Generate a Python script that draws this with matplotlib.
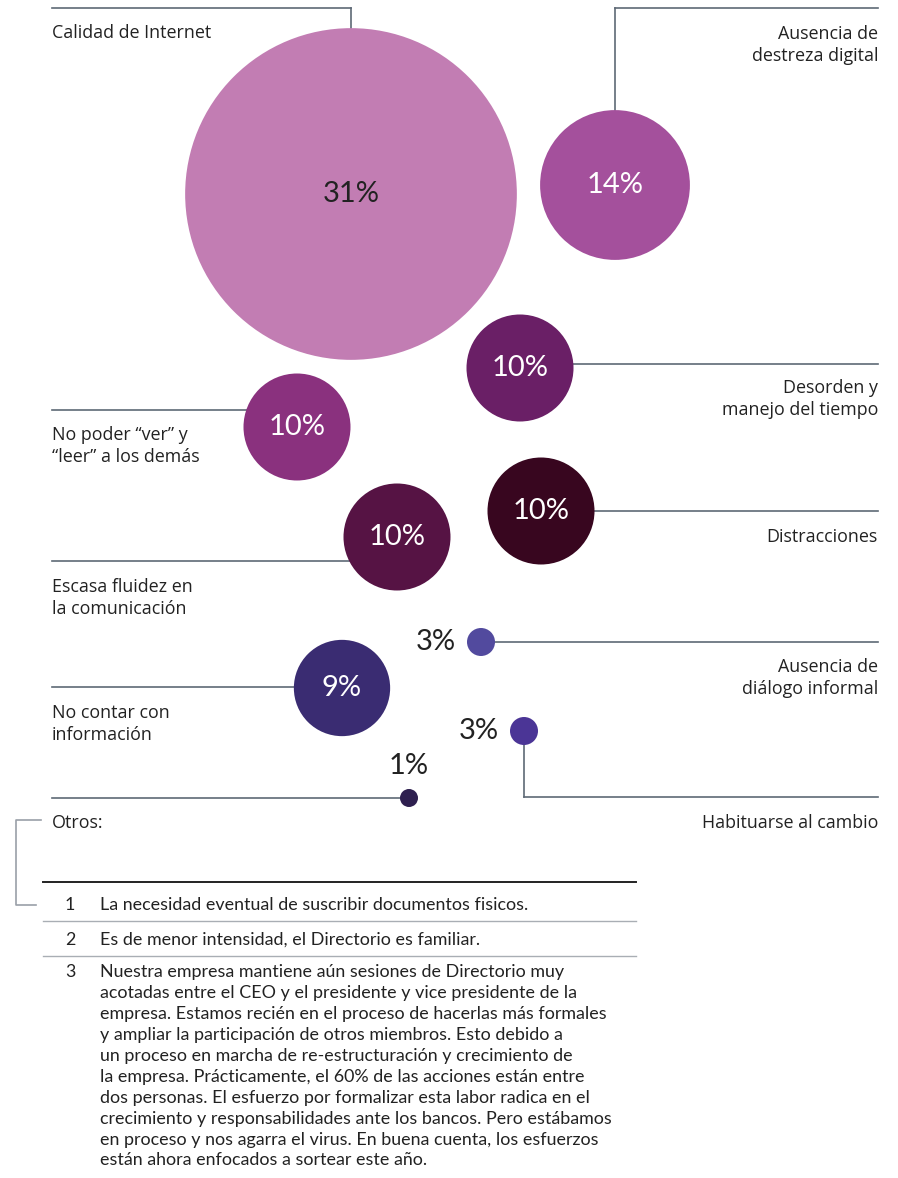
import numpy as np
import matplotlib
matplotlib.use("Agg")
import matplotlib.pyplot as plt
from matplotlib.patches import Circle

# data
categories = [
    "Calidad de Internet",
    "Ausencia de\ndestreza digital",
    "Desorden y\nmanejo del tiempo",
    "No poder \u201cver\u201d y\n\u201cleer\u201d a los dem\u00e1s",
    "Distracciones",
    "Escasa fluidez en\nla comunicaci\u00f3n",
    "Ausencia de\ndi\u00e1logo informal",
    "No contar con\ninformaci\u00f3n",
    "Habituarse al cambio",
    "Otros:",
]
values = [31, 14, 10, 10, 10, 10, 3, 9, 3, 1]
colors = ["#C27DB3", "#A4509C", "#6A1F66", "#8A317E", "#38061F",
          "#561344", "#524A9E", "#3A2C72", "#4B3596", "#2E1F4F"]
footnote_nums = ["1", "2", "3"]
footnotes = [
    "La necesidad eventual de suscribir documentos fisicos.",
    "Es de menor intensidad, el Directorio es familiar.",
    "Nuestra empresa mantiene a\u00fan sesiones de Directorio muy\n"
    "acotadas entre el CEO y el presidente y vice presidente de la\n"
    "empresa. Estamos reci\u00e9n en el proceso de hacerlas m\u00e1s formales\n"
    "y ampliar la participaci\u00f3n de otros miembros. Esto debido a\n"
    "un proceso en marcha de re-estructuraci\u00f3n y crecimiento de\n"
    "la empresa. Pr\u00e1cticamente, el 60% de las acciones est\u00e1n entre\n"
    "dos personas. El esfuerzo por formalizar esta labor radica en el\n"
    "crecimiento y responsabilidades ante los bancos. Pero est\u00e1bamos\n"
    "en proceso y nos agarra el virus. En buena cuenta, los esfuerzos\n"
    "est\u00e1n ahora enfocados a sortear este a\u00f1o.",
]

# layout (pixel space)
centers = [(351, 194), (615, 185), (520, 368), (297, 427), (541, 511),
           (397, 537), (481, 642), (342, 688), (524, 731), (409, 798)]
label_side = ["L", "R", "R", "L", "R", "L", "R", "L", "R", "L"]
label_y = [24, 25, 379, 426, 528, 578, 658, 704, 814, 814]
line_y = [8, 8, 364, 410, 511, 561, 642, 687, 797, 798]

LEFT, RIGHT = 52, 878
LINE_C = "#5E6976"
TXT_C = "#222222"
FONT = ["Open Sans", "DejaVu Sans"]
PCT_FONT = ["Lato", "DejaVu Sans"]


def radius(v):
    return 5.35 * v if v >= 5 else 2.5 * v + 6.5


fig = plt.figure(figsize=(8.98, 11.78), dpi=100)
ax = fig.add_axes([0, 0, 1, 1])
ax.set_xlim(0, 898)
ax.set_ylim(1178, 0)
ax.axis("off")

for i, (cat, v, c) in enumerate(zip(categories, values, colors)):
    cx, cy = centers[i]
    r = radius(v)
    ly = line_y[i]
    # leader lines
    if i in (0, 1):
        ax.plot([cx, cx], [ly, cy - r], color=LINE_C, lw=1.2, zorder=1)
        if i == 0:
            ax.plot([LEFT, cx], [ly, ly], color=LINE_C, lw=1.2, zorder=1)
        else:
            ax.plot([cx, RIGHT], [ly, ly], color=LINE_C, lw=1.2, zorder=1)
    elif i == 8:
        ax.plot([cx, cx], [cy, ly], color=LINE_C, lw=1.2, zorder=1)
        ax.plot([cx, RIGHT], [ly, ly], color=LINE_C, lw=1.2, zorder=1)
    elif label_side[i] == "L":
        ax.plot([LEFT, cx], [ly, ly], color=LINE_C, lw=1.2, zorder=1)
    else:
        ax.plot([cx, RIGHT], [ly, ly], color=LINE_C, lw=1.2, zorder=1)

    ax.add_patch(Circle((cx, cy), r, facecolor=c, edgecolor="none", zorder=2))

    # value label
    pct = f"{v}%"
    if v >= 9:
        tc = TXT_C if i == 0 else "white"
        ax.text(cx, cy, pct, ha="center", va="center", fontsize=21,
                color=tc, family=PCT_FONT, zorder=3)
    elif v == 1:
        ax.text(cx, cy - 32, pct, ha="center", va="center", fontsize=21,
                color=TXT_C, family=PCT_FONT, zorder=3)
    else:
        ax.text(cx - r - 11, cy, pct, ha="right", va="center", fontsize=21,
                color=TXT_C, family=PCT_FONT, zorder=3)

    # category label
    if label_side[i] == "L":
        ax.text(LEFT, label_y[i], cat, ha="left", va="top", fontsize=12.9,
                color=TXT_C, family=FONT, weight="medium", linespacing=1.3)
    else:
        ax.text(RIGHT, label_y[i], cat, ha="right", va="top", fontsize=12.9,
                color=TXT_C, family=FONT, weight="medium", linespacing=1.3,
                multialignment="right")

# bracket for "Otros"
ax.plot([41, 16, 16, 36], [820, 820, 905, 905], color="#9AA0A8", lw=1.2)

# footnotes
FN_FONT = ["Lato", "DejaVu Sans"]
ax.plot([43, 636], [882, 882], color="#222222", lw=1.4)
row_y = [905, 940, 974]
sep_y = [921, 956]
for sy in sep_y:
    ax.plot([43, 636], [sy, sy], color="#A9AEB4", lw=1.0)
for n, t, y in zip(footnote_nums, footnotes, row_y):
    va = "center" if n != "3" else "top"
    yy = y if n != "3" else y - 10
    ax.text(70, yy, n, ha="center", va=va, fontsize=12.9, color=TXT_C,
            family=FN_FONT)
    ax.text(100, yy, t, ha="left", va=va, fontsize=12.9, color=TXT_C,
            family=FN_FONT, linespacing=1.38)

fig.savefig("out.png", dpi=100)
